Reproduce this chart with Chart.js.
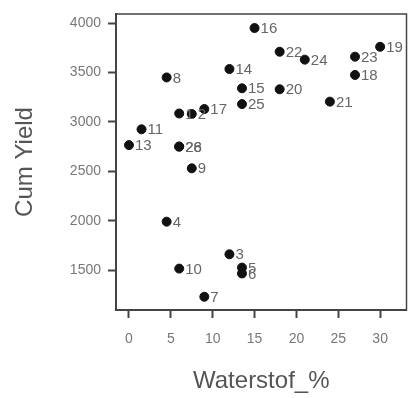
<!DOCTYPE html>
<html>
<head>
<meta charset="utf-8">
<script src="https://cdn.jsdelivr.net/npm/chart.js@4"></script>
<style>
  html,body{margin:0;padding:0;background:#fff;overflow:hidden;}
  #wrap{width:409px;height:398px;overflow:hidden;}
</style>
</head>
<body>
<div id="wrap"><canvas id="grafico" width="412" height="398"></canvas></div>
<script>
// waarden
const puntNummers = ["1","2","3","4","5","6","7","8","9","10","11","13","14","15","16","17","18","19","20","21","22","23","24","25","26","28"];
const waterstof   = [6, 7.5, 12, 4.5, 13.5, 13.5, 9, 4.5, 7.5, 6, 1.5, 0, 12, 13.5, 15, 9, 27, 30, 18, 24, 18, 27, 21, 13.5, 6, 6];
const cumYield    = [3085, 3080, 1660, 1990, 1525, 1466, 1230, 3450, 2530, 1515, 2925, 2765, 3535, 3340, 3950, 3130, 3475, 3760, 3330, 3205, 3710, 3660, 3630, 3180, 2750, 2750];
const xTicks = [0, 5, 10, 15, 20, 25, 30];
const yTicks = [1500, 2000, 2500, 3000, 3500, 4000];

const punten = waterstof.map((x,i)=>({x, y:cumYield[i]}));

// nummers naast de punten
const labelsPlugin = {
  id:"puntLabels",
  afterDatasetsDraw(chart){
    const ctx = chart.ctx;
    const meta = chart.getDatasetMeta(0);
    ctx.save();
    ctx.font = "15px 'Liberation Sans', Arial, sans-serif";
    ctx.fillStyle = "#666";
    ctx.textBaseline = "middle";
    meta.data.forEach((p,i)=>{
      ctx.fillText(puntNummers[i], p.x+6, p.y+1);
    });
    ctx.restore();
  }
};

// kader rond het plotgebied
const kaderPlugin = {
  id:"kader",
  afterDraw(chart){
    const a = chart.chartArea, ctx = chart.ctx;
    ctx.save();
    ctx.strokeStyle = "#444";
    ctx.lineWidth = 1.5;
    ctx.strokeRect(a.left, a.top, a.right-a.left, a.bottom-a.top);
    ctx.restore();
  }
};

const tickFont = {family:"'Liberation Sans', Arial, sans-serif", size:14};
const titelFont = {family:"'Liberation Sans', Arial, sans-serif", size:24};

new Chart(document.getElementById("grafico"),{
  type:"scatter",
  data:{datasets:[{data:punten, backgroundColor:"#111", borderColor:"#111", pointRadius:4.5, pointHoverRadius:4.5}]},
  plugins:[labelsPlugin, kaderPlugin],
  options:{
    responsive:false,
    animation:false,
    layout:{padding:{top:14, right:2, left:0, bottom:0}},
    plugins:{legend:{display:false}, tooltip:{enabled:false}},
    scales:{
      x:{
        min:-1.55, max:33.15,
        afterBuildTicks: s => { s.ticks = xTicks.map(v=>({value:v})); },
        afterFit: s => { s.height = 88; s.paddingLeft = 0; s.paddingRight = 0; },
        grid:{drawOnChartArea:false, drawTicks:true, tickLength:8, tickColor:"#444", tickWidth:2},
        border:{display:true, color:"#444", width:2},
        ticks:{color:"#777", font:tickFont, padding:13, maxRotation:0, callback:v=>String(v)},
        title:{display:true, text:"Waterstof_%", color:"#555", font:titelFont, padding:{top:2, bottom:2}}
      },
      y:{
        min:1096, max:4092,
        afterBuildTicks: s => { s.ticks = yTicks.map(v=>({value:v})); },
        afterFit: s => { s.width = 116; s.paddingTop = 0; s.paddingBottom = 0; },
        grid:{drawOnChartArea:false, drawTicks:true, tickLength:8, tickColor:"#444", tickWidth:2},
        border:{display:true, color:"#444", width:2},
        ticks:{color:"#777", font:tickFont, padding:7, callback:v=>String(v)},
        title:{display:true, text:"Cum Yield", color:"#555", font:titelFont, padding:{top:11, bottom:11}}
      }
    }
  }
});
</script>
</body>
</html>
